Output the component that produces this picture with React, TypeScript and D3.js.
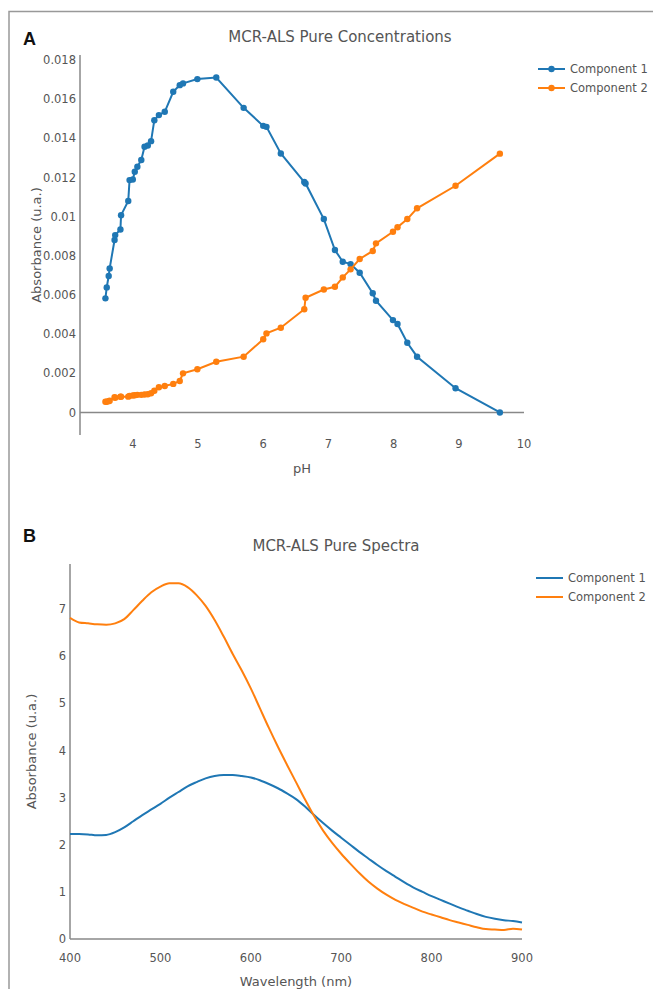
import React from 'react';
import * as d3 from 'd3';

// Panel A: pure concentrations vs pH
const pH = [
  3.58, 3.6, 3.63, 3.645, 3.72, 3.73, 3.81, 3.82, 3.93, 3.95, 4.0, 4.03, 4.07, 4.13, 4.18,
  4.23, 4.28, 4.33, 4.4, 4.49, 4.62, 4.72, 4.77, 4.99, 5.28, 5.7, 6.0, 6.05, 6.27, 6.63,
  6.65, 6.93, 7.1, 7.22, 7.34, 7.48, 7.68, 7.73, 7.99, 8.06, 8.21, 8.36, 8.95, 9.63,
];
const conc1 = [
  0.00583, 0.00639, 0.00697, 0.00736, 0.00881, 0.00906, 0.00935, 0.01008, 0.0108, 0.01187,
  0.0119, 0.0123, 0.01255, 0.0129, 0.01357, 0.01364, 0.01386, 0.01493, 0.01519, 0.01536,
  0.01638, 0.01672, 0.01681, 0.01703, 0.01711, 0.01556, 0.01464, 0.01459, 0.01323, 0.01177,
  0.0117, 0.00988, 0.0083, 0.0077, 0.00758, 0.00714, 0.00609, 0.00571, 0.00472, 0.00452,
  0.00356, 0.00285, 0.00124, 0.0,
];
const conc2 = [
  0.00055, 0.00055, 0.00058, 0.0006, 0.00078, 0.00075, 0.0008, 0.00081, 0.00081, 0.00085,
  0.00087, 0.00088, 0.0009, 0.0009, 0.00092, 0.00093, 0.00098, 0.00111, 0.00129, 0.00135,
  0.00146, 0.00161, 0.002, 0.00221, 0.00259, 0.00285, 0.00374, 0.00404, 0.00433, 0.00527,
  0.00586, 0.00628, 0.00642, 0.0069, 0.00731, 0.00784, 0.00825, 0.00864, 0.00923, 0.00946,
  0.00988, 0.01043, 0.01158, 0.01322,
];
const ticksA_x = [4, 5, 6, 7, 8, 9, 10];
const ticksA_y = [0, 0.002, 0.004, 0.006, 0.008, 0.01, 0.012, 0.014, 0.016, 0.018];

// Panel B: pure spectra vs wavelength
const wavelength = [
  400, 410, 420, 430, 440, 450, 460, 470, 480, 490, 500, 510, 520, 530, 540, 550, 560, 570,
  580, 590, 600, 610, 620, 630, 640, 650, 660, 670, 680, 690, 700, 710, 720, 730, 740, 750,
  760, 770, 780, 790, 800, 810, 820, 830, 840, 850, 860, 870, 880, 890, 900,
];
const spec1 = [
  2.23, 2.23, 2.22, 2.2, 2.21, 2.27, 2.37, 2.5, 2.63, 2.75, 2.87, 3.0, 3.12, 3.24, 3.33,
  3.41, 3.46, 3.48, 3.48, 3.46, 3.43, 3.37, 3.29, 3.2, 3.09, 2.97, 2.81, 2.63, 2.46, 2.3, 2.15,
  2.0, 1.85, 1.71, 1.57, 1.44, 1.32, 1.2, 1.09, 1.0, 0.91, 0.83, 0.75, 0.67, 0.6, 0.53, 0.47,
  0.43, 0.4, 0.38, 0.35,
];
const spec2 = [
  6.82, 6.72, 6.7, 6.68, 6.67, 6.7, 6.79, 6.98, 7.18, 7.36, 7.48, 7.55, 7.55, 7.47, 7.3,
  7.07, 6.77, 6.42, 6.05, 5.7, 5.32, 4.9, 4.48, 4.08, 3.7, 3.33, 2.96, 2.61, 2.3, 2.04, 1.81,
  1.6, 1.4, 1.22, 1.07, 0.94, 0.83, 0.74, 0.66, 0.58, 0.52, 0.46, 0.4, 0.35, 0.3, 0.25, 0.21,
  0.2, 0.19, 0.22, 0.2,
];
const ticksB_x = [400, 500, 600, 700, 800, 900];
const ticksB_y = [0, 1, 2, 3, 4, 5, 6, 7];

const seriesNames = ['Component 1', 'Component 2'];
const colors = ['#1f77b4', '#ff7f0e'];

const font = '"DejaVu Sans", Verdana, sans-serif';
const textColor = '#555';
const axisColor = '#888';

const App = () => {
  // panel A scales
  const xA = d3.scaleLinear().domain([3.19, 10]).range([80, 524]);
  const yA = d3.scaleLinear().domain([-0.00115, 0.01826]).range([435, 55]);
  const lineA = d3
    .line<number>()
    .x((_, i) => xA(pH[i]))
    .y((d) => yA(d));

  // panel B scales
  const xB = d3.scaleLinear().domain([400, 900]).range([70, 522]);
  const yB = d3.scaleLinear().domain([0, 7.96]).range([939, 564]);
  const lineB = d3
    .line<number>()
    .x((_, i) => xB(wavelength[i]))
    .y((d) => yB(d))
    .curve(d3.curveMonotoneX);

  const fmtA = (d: number) => String(+d.toFixed(3));

  return (
    <svg
      width={653}
      height={989}
      style={{ position: 'absolute', left: 0, top: 0, background: '#fff' }}
      fontFamily={font}
    >
      {/* frame */}
      <path d="M9,989 V11.5 H653" fill="none" stroke="#999" strokeWidth={1.5} />

      {/* ---------- Panel A ---------- */}
      <text x={23} y={45} fontSize={18} fontWeight="bold" fill="#111" fontFamily="Arial, Liberation Sans, sans-serif">
        A
      </text>
      <text x={340} y={42} fontSize={15} fill="#555" textAnchor="middle">
        MCR-ALS Pure Concentrations
      </text>

      <line x1={80} x2={80} y1={55} y2={435} stroke={axisColor} strokeWidth={1.5} />
      <line x1={80} x2={524} y1={yA(0)} y2={yA(0)} stroke={axisColor} strokeWidth={1.5} />

      {ticksA_y.map((t) => (
        <text key={t} x={76} y={yA(t)} dy="0.35em" fontSize={11.5} fill={textColor} textAnchor="end">
          {fmtA(t)}
        </text>
      ))}
      {ticksA_x.map((t) => (
        <text key={t} x={xA(t)} y={448} fontSize={11.5} fill={textColor} textAnchor="middle">
          {t}
        </text>
      ))}
      <text x={302} y={473} fontSize={13} fill={textColor} textAnchor="middle">
        pH
      </text>
      <text
        transform={`translate(41,${(55 + 435) / 2}) rotate(-90)`}
        fontSize={13}
        fill={textColor}
        textAnchor="middle"
      >
        Absorbance (u.a.)
      </text>

      {[conc1, conc2].map((s, k) => (
        <g key={k}>
          <path d={lineA(s) || ''} fill="none" stroke={colors[k]} strokeWidth={2} />
          {s.map((d, i) => (
            <circle key={i} cx={xA(pH[i])} cy={yA(d)} r={3.2} fill={colors[k]} />
          ))}
        </g>
      ))}

      {seriesNames.map((n, k) => (
        <g key={n} transform={`translate(538,${69 + k * 19})`}>
          <line x1={0} x2={27} y1={0} y2={0} stroke={colors[k]} strokeWidth={2} />
          <circle cx={13.5} cy={0} r={3.2} fill={colors[k]} />
          <text x={32} y={0} dy="0.35em" fontSize={11.5} fill={textColor}>
            {n}
          </text>
        </g>
      ))}

      {/* ---------- Panel B ---------- */}
      <text x={23} y={542} fontSize={18} fontWeight="bold" fill="#111" fontFamily="Arial, Liberation Sans, sans-serif">
        B
      </text>
      <text x={336} y={551} fontSize={15} fill="#555" textAnchor="middle">
        MCR-ALS Pure Spectra
      </text>

      <line x1={70} x2={70} y1={564} y2={939} stroke={axisColor} strokeWidth={1.5} />
      <line x1={70} x2={522} y1={yB(0)} y2={yB(0)} stroke={axisColor} strokeWidth={1.5} />

      {ticksB_y.map((t) => (
        <text key={t} x={66} y={yB(t)} dy="0.35em" fontSize={11.5} fill={textColor} textAnchor="end">
          {t}
        </text>
      ))}
      {ticksB_x.map((t) => (
        <text key={t} x={xB(t)} y={962} fontSize={11.5} fill={textColor} textAnchor="middle">
          {t}
        </text>
      ))}
      <text x={296} y={986} fontSize={13} fill={textColor} textAnchor="middle">
        Wavelength (nm)
      </text>
      <text
        transform={`translate(36,${(564 + 939) / 2}) rotate(-90)`}
        fontSize={13}
        fill={textColor}
        textAnchor="middle"
      >
        Absorbance (u.a.)
      </text>

      {[spec1, spec2].map((s, k) => (
        <path key={k} d={lineB(s) || ''} fill="none" stroke={colors[k]} strokeWidth={2} />
      ))}

      {seriesNames.map((n, k) => (
        <g key={n} transform={`translate(536,${578 + k * 19})`}>
          <line x1={0} x2={27} y1={0} y2={0} stroke={colors[k]} strokeWidth={2} />
          <text x={32} y={0} dy="0.35em" fontSize={11.5} fill={textColor}>
            {n}
          </text>
        </g>
      ))}
    </svg>
  );
};

export default App;
